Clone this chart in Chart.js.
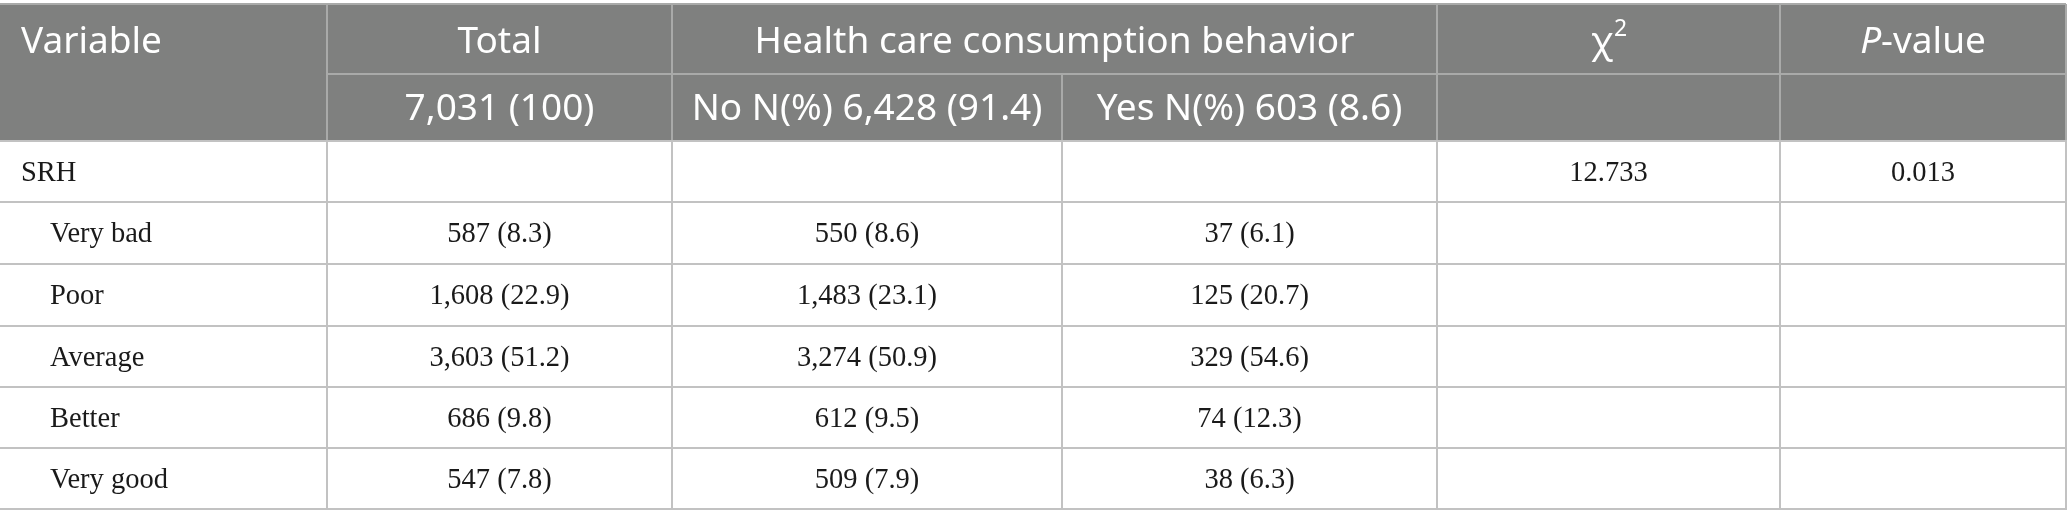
<!DOCTYPE html>
<html>
<head>
<meta charset="utf-8">
<script src="https://cdn.jsdelivr.net/npm/chart.js@4.4.1/dist/chart.umd.min.js"></script>
<style>
  html, body { margin: 0; padding: 0; background: #fff; }
  #wrap { width: 2067px; height: 528px; }
</style>
</head>
<body>
<div id="wrap"><canvas id="tableChart" width="2067" height="528"></canvas></div>
<script>
// table content
const headerTop = ['Variable', 'Total', 'Health care consumption behavior', 'χ', 'P'];
const headerSub = ['7,031 (100)', 'No N(%) 6,428 (91.4)', 'Yes N(%) 603 (8.6)'];
const groupLabel = 'SRH';
const categories = ['Very bad', 'Poor', 'Average', 'Better', 'Very good'];
const totalN = [587, 1608, 3603, 686, 547];
const totalPct = [8.3, 22.9, 51.2, 9.8, 7.8];
const noN = [550, 1483, 3274, 612, 509];
const noPct = [8.6, 23.1, 50.9, 9.5, 7.9];
const yesN = [37, 125, 329, 74, 38];
const yesPct = [6.1, 20.7, 54.6, 12.3, 6.3];
const chiSquare = [12.733];
const pValue = [0.013];

// layout (table units = canvas px)
const colEdges = [0, 327, 672, 1062, 1437, 1780, 2066];
const rowEdges = [4, 74, 141, 202, 264, 326, 387, 448, 509];

const headFont = '400 37px "Noto Sans"';
const headSupFont = '400 23px "Noto Sans"';
const headItalic = 'italic 400 37px "Noto Sans"';
const bodyFont = '28.5px "Liberation Serif"';

function fmtCell(n, p) {
    return n.toLocaleString('en-US') + ' (' + p.toFixed(1) + ')';
}

const tablePlugin = {
    id: 'tablePlugin',
    afterDraw(chart) {
        const ctx = chart.ctx;
        const xs = chart.scales.x;
        const ys = chart.scales.y;
        const X = v => xs.getPixelForValue(v);
        const Y = v => ys.getPixelForValue(v);
        const colMid = i => X((colEdges[i] + colEdges[i + 1]) / 2);
        const rowMid = i => Y((rowEdges[i] + rowEdges[i + 1]) / 2);

        ctx.save();

        // header background
        ctx.fillStyle = '#7f807f';
        ctx.fillRect(X(0), Y(rowEdges[0]), X(colEdges[6]) - X(0) + 1, Y(rowEdges[2]) - Y(rowEdges[0]));

        function hLine(x0, x1, y, color) {
            ctx.strokeStyle = color;
            ctx.lineWidth = 2;
            ctx.beginPath();
            ctx.moveTo(X(x0), Y(y));
            ctx.lineTo(X(x1), Y(y));
            ctx.stroke();
        }
        function vLine(x, y0, y1, color) {
            ctx.strokeStyle = color;
            ctx.lineWidth = 2;
            ctx.beginPath();
            ctx.moveTo(X(x), Y(y0));
            ctx.lineTo(X(x), Y(y1));
            ctx.stroke();
        }

        const headLine = '#a9aaa9';
        const bodyLine = '#c2c2c2';

        // header lines
        hLine(colEdges[0], colEdges[6], rowEdges[0], headLine);
        hLine(colEdges[1], colEdges[6], rowEdges[1], headLine);
        [1, 2, 4, 5].forEach(i => vLine(colEdges[i], rowEdges[0], rowEdges[2], headLine));
        vLine(colEdges[3], rowEdges[1], rowEdges[2], headLine);
        vLine(colEdges[6], rowEdges[0], rowEdges[2], headLine);

        // body lines
        for (let r = 2; r < rowEdges.length; r++) {
            hLine(colEdges[0], colEdges[6] + 1, rowEdges[r], bodyLine);
        }
        for (let c = 1; c < colEdges.length; c++) {
            vLine(colEdges[c], rowEdges[2], rowEdges[rowEdges.length - 1], bodyLine);
        }

        function text(str, x, y, font, color, align) {
            ctx.font = font;
            ctx.fillStyle = color;
            ctx.textAlign = align || 'center';
            ctx.textBaseline = 'middle';
            ctx.fillText(str, x, y);
        }

        // header row 1
        const hy = rowMid(0) + 3;
        text(headerTop[0], X(21), hy, headFont, '#fff', 'left');
        text(headerTop[1], colMid(1), hy, headFont, '#fff');
        text(headerTop[2], X((colEdges[2] + colEdges[4]) / 2), hy, headFont, '#fff');
        // chi-square with superscript 2
        ctx.font = headFont;
        const chiW = ctx.measureText(headerTop[3]).width;
        ctx.font = headSupFont;
        const supW = ctx.measureText('2').width;
        const chiX = colMid(4) - (chiW + supW) / 2;
        text(headerTop[3], chiX, hy, headFont, '#fff', 'left');
        text('2', chiX + chiW + 1, hy - 13, headSupFont, '#fff', 'left');
        // P-value, italic P
        ctx.font = headItalic;
        const pW = ctx.measureText(headerTop[4]).width;
        ctx.font = headFont;
        const restW = ctx.measureText('-value').width;
        const pX = colMid(5) - (pW + restW) / 2;
        text(headerTop[4], pX, hy, headItalic, '#fff', 'left');
        text('-value', pX + pW, hy, headFont, '#fff', 'left');

        // header row 2
        const sy = rowMid(1) + 2;
        headerSub.forEach((s, i) => text(s, colMid(i + 1), sy, headFont, '#fff'));

        // group row
        const gy = rowMid(2) + 2;
        text(groupLabel, X(21), gy, bodyFont, '#1a1a1a', 'left');
        text(chiSquare[0].toFixed(3), colMid(4), gy, bodyFont, '#1a1a1a');
        text(pValue[0].toFixed(3), colMid(5), gy, bodyFont, '#1a1a1a');

        // category rows
        categories.forEach((cat, i) => {
            const y = rowMid(i + 3) + 2;
            text(cat, X(50), y, bodyFont, '#1a1a1a', 'left');
            text(fmtCell(totalN[i], totalPct[i]), colMid(1), y, bodyFont, '#1a1a1a');
            text(fmtCell(noN[i], noPct[i]), colMid(2), y, bodyFont, '#1a1a1a');
            text(fmtCell(yesN[i], yesPct[i]), colMid(3), y, bodyFont, '#1a1a1a');
        });

        ctx.restore();
    }
};

new Chart(document.getElementById('tableChart').getContext('2d'), {
    type: 'scatter',
    data: { datasets: [{ data: [], pointRadius: 0 }] },
    options: {
        responsive: false,
        animation: false,
        devicePixelRatio: 1,
        layout: { padding: 0 },
        plugins: { legend: { display: false }, tooltip: { enabled: false } },
        scales: {
            x: { type: 'linear', min: 0, max: 2067, display: false },
            y: { type: 'linear', min: 0, max: 528, reverse: true, display: false }
        }
    },
    plugins: [tablePlugin]
});
</script>
</body>
</html>
